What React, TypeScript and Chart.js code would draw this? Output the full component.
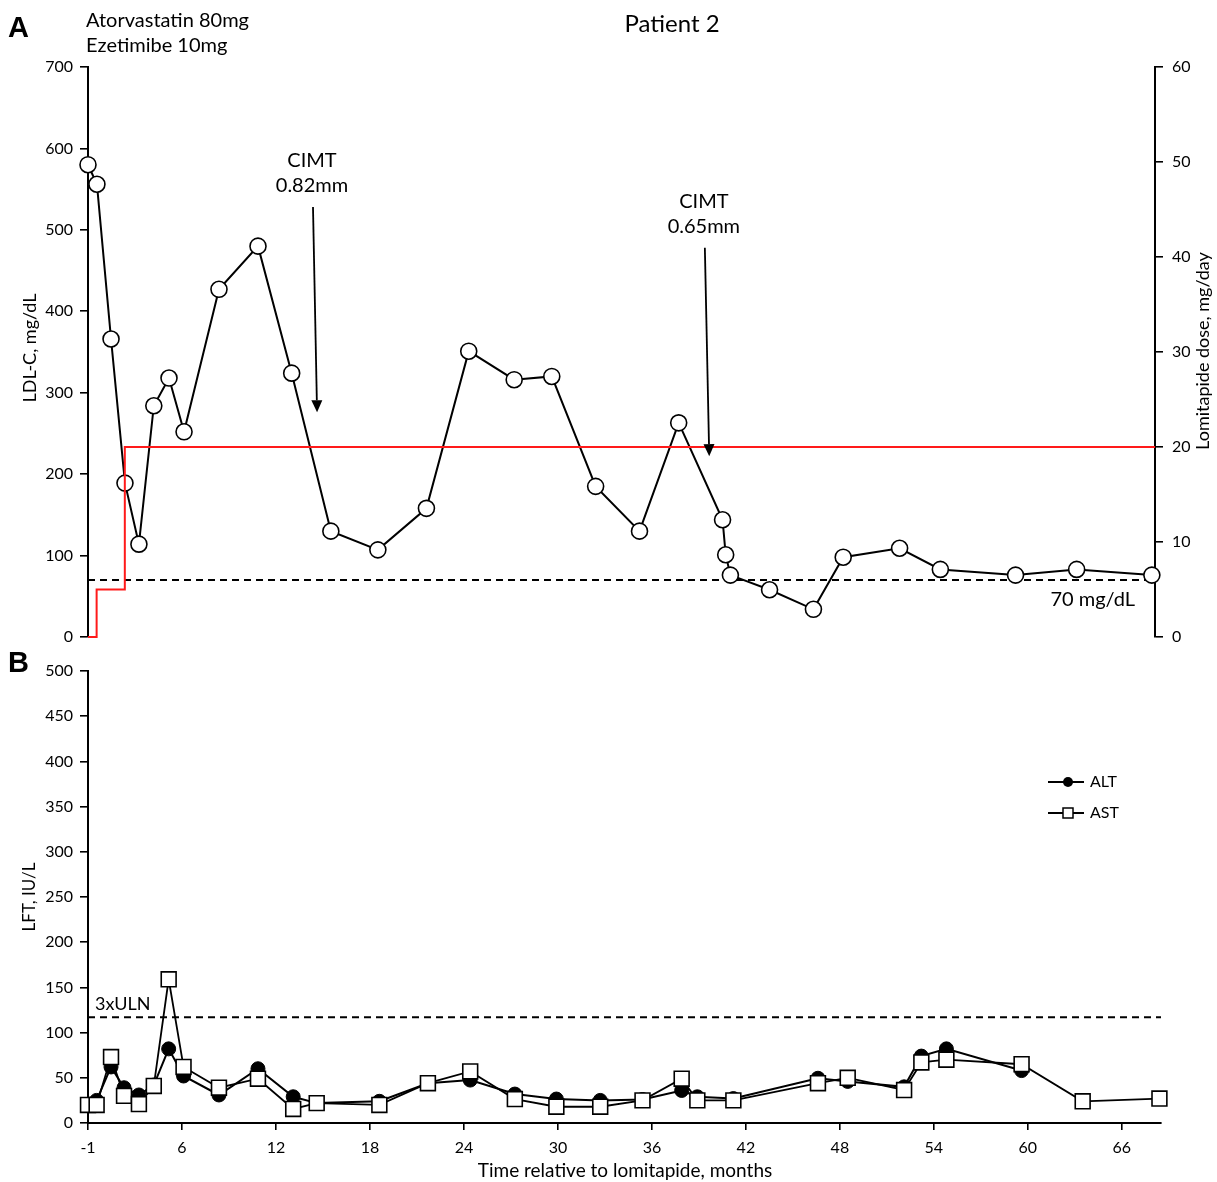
import React, { useEffect, useRef } from "react";
import { Chart, registerables } from "chart.js";

Chart.register(...registerables);

const FONT = "Lato, 'Open Sans', sans-serif";
const BOLD_FONT = "'Liberation Sans', Arial, sans-serif";

// ---------- Panel A data ----------
const LDL_MONTHS = [0, 0.57, 1.47, 2.36, 3.25, 4.2, 5.17, 6.13, 8.36, 10.85, 13.0, 15.5, 18.5, 21.6, 24.3, 27.2, 29.6, 32.4, 35.2, 37.7, 40.5, 40.7, 41.0, 43.5, 46.3, 48.2, 51.8, 54.4, 59.2, 63.1, 67.9];
const LDL_VALUES = [580, 556, 366, 189, 114, 284, 318, 252, 427, 480, 324, 130, 107, 158, 351, 316, 320, 185, 130, 263, 144, 101, 76, 58, 34, 98, 109, 83, 76, 83, 76];
const DOSE_MONTHS = [0, 0.55, 2.35, 68.1];
const DOSE_VALUES = [0, 5, 20, 20];
const LDL_TARGET = 70;
const LDL_TICKS = [0, 100, 200, 300, 400, 500, 600, 700];
const DOSE_TICKS = [0, 10, 20, 30, 40, 50, 60];
const CIMT_NOTES = [
  { label: "0.82mm", month: 14.36, tipMonth: 14.62, top: 528, tip: 276 },
  { label: "0.65mm", month: 39.37, tipMonth: 39.65, top: 478, tip: 222 },
];

// ---------- Panel B data ----------
const AST_MONTHS = [0, 0.55, 1.47, 2.3, 3.25, 4.2, 5.15, 6.1, 8.36, 10.85, 13.1, 14.6, 18.6, 21.7, 24.4, 27.25, 29.9, 32.7, 35.4, 37.9, 38.9, 41.2, 46.6, 48.5, 52.1, 53.2, 54.8, 59.6, 63.5, 68.4];
const AST_VALUES = [20, 20, 73, 30, 21, 41, 159, 62, 39, 49, 15.5, 22, 20, 44, 57, 26.5, 18, 18, 25, 49, 25, 25, 44, 50, 36.5, 67, 70, 65, 24, 27];
const ALT_MONTHS = [0, 0.55, 1.47, 2.3, 3.25, 4.2, 5.15, 6.1, 8.36, 10.85, 13.1, 14.6, 18.6, 21.7, 24.4, 27.25, 29.9, 32.7, 35.4, 37.9, 38.9, 41.2, 46.6, 48.5, 52.1, 53.2, 54.8, 59.6];
const ALT_VALUES = [20, 25, 62, 39, 31, 42, 82, 52, 31, 60, 29, 22, 24, 44, 47.5, 32, 26.5, 25, 26, 36, 29, 27, 49.5, 46, 40, 74, 82, 58];
const ULN3 = 117;
const LFT_TICKS = [0, 50, 100, 150, 200, 250, 300, 350, 400, 450, 500];
const MONTH_TICKS = [0, 6, 12, 18, 24, 30, 36, 42, 48, 54, 60, 66];
const MONTH_TICK_LABELS = ["-1", "6", "12", "18", "24", "30", "36", "42", "48", "54", "60", "66"];

const W = 1217;
const A_TOP = 0;
const A_H = 660;
const B_TOP = 640;
const B_H = 542;
const INK = "#000";

const pts = (xs: number[], ys: number[]) => xs.map((x, i) => ({ x, y: ys[i] }));

function axisCommon(ticks: number[], width: number) {
  return {
    type: "linear" as const,
    min: ticks[0],
    max: ticks[ticks.length - 1],
    afterBuildTicks: (s: any) => {
      s.ticks = ticks.map((v) => ({ value: v }));
    },
    afterFit: (s: any) => {
      s.width = width;
    },
    grid: { drawOnChartArea: false, color: INK, tickLength: 8, lineWidth: 1.6 },
    border: { color: INK, width: 2 },
    ticks: { color: INK, font: { family: FONT, size: 16 }, padding: 7 },
  };
}

function text(ctx: CanvasRenderingContext2D, s: string, x: number, y: number, font: string, align: CanvasTextAlign = "left", baseline: CanvasTextBaseline = "alphabetic", rot = 0) {
  ctx.save();
  ctx.font = font;
  ctx.fillStyle = INK;
  ctx.textAlign = align;
  ctx.textBaseline = baseline;
  ctx.translate(x, y);
  if (rot) ctx.rotate(rot);
  ctx.fillText(s, 0, 0);
  ctx.restore();
}

function arrow(ctx: CanvasRenderingContext2D, x1: number, y1: number, x2: number, y2: number) {
  const ang = Math.atan2(y2 - y1, x2 - x1);
  const hl = 12;
  const hw = 5.5;
  const bx = x2 - hl * Math.cos(ang);
  const by = y2 - hl * Math.sin(ang);
  ctx.save();
  ctx.strokeStyle = INK;
  ctx.fillStyle = INK;
  ctx.lineWidth = 1.8;
  ctx.beginPath();
  ctx.moveTo(x1, y1);
  ctx.lineTo(bx, by);
  ctx.stroke();
  ctx.beginPath();
  ctx.moveTo(x2, y2);
  ctx.lineTo(bx + hw * Math.sin(ang), by - hw * Math.cos(ang));
  ctx.lineTo(bx - hw * Math.sin(ang), by + hw * Math.cos(ang));
  ctx.closePath();
  ctx.fill();
  ctx.restore();
}

const annotA = {
  id: "annotA",
  afterDraw(chart: any) {
    const ctx = chart.ctx as CanvasRenderingContext2D;
    const xs = chart.scales.x;
    const ys = chart.scales.y;
    const o = A_TOP;
    text(ctx, "A", 8, 37 - o, `bold 29px ${BOLD_FONT}`);
    text(ctx, "Atorvastatin 80mg", 86, 27 - o, `20px ${FONT}`);
    text(ctx, "Ezetimibe 10mg", 86, 52 - o, `20px ${FONT}`);
    text(ctx, "Patient 2", 672, 32 - o, `24px ${FONT}`, "center");
    text(ctx, "LDL-C, mg/dL", 30, 348 - o, `18px ${FONT}`, "center", "middle", -Math.PI / 2);
    text(ctx, "Lomitapide dose, mg/day", 1203, 351 - o, `18px ${FONT}`, "center", "middle", -Math.PI / 2);
    text(ctx, "70 mg/dL", xs.right - 20, ys.getPixelForValue(LDL_TARGET) + 20, `20px ${FONT}`, "right", "middle");
    for (const n of CIMT_NOTES) {
      const x1 = xs.getPixelForValue(n.month);
      const y1 = ys.getPixelForValue(n.top);
      const x2 = xs.getPixelForValue(n.tipMonth);
      const y2 = ys.getPixelForValue(n.tip);
      text(ctx, "CIMT", x1 - 1, y1 - 40, `20px ${FONT}`, "center");
      text(ctx, n.label, x1 - 1, y1 - 15, `20px ${FONT}`, "center");
      arrow(ctx, x1, y1, x2, y2);
    }
  },
};

const annotB = {
  id: "annotB",
  afterDraw(chart: any) {
    const ctx = chart.ctx as CanvasRenderingContext2D;
    const xs = chart.scales.x;
    const ys = chart.scales.y;
    const o = B_TOP;
    text(ctx, "B", 8, 672 - o, `bold 29px ${BOLD_FONT}`);
    text(ctx, "LFT, IU/L", 30, 897 - o, `17px ${FONT}`, "center", "middle", -Math.PI / 2);
    text(ctx, "Time relative to lomitapide, months", 625, 1171 - o, `19px ${FONT}`, "center", "middle");
    text(ctx, "3xULN", 95, ys.getPixelForValue(ULN3) - 7, `18px ${FONT}`, "left", "alphabetic");
    // legend
    const lx = 1048;
    const rows = [
      { label: "ALT", y: 782 - o, kind: "circle" },
      { label: "AST", y: 813 - o, kind: "rect" },
    ];
    for (const r of rows) {
      ctx.save();
      ctx.strokeStyle = INK;
      ctx.lineWidth = 1.8;
      ctx.beginPath();
      ctx.moveTo(lx, r.y);
      ctx.lineTo(lx + 36, r.y);
      ctx.stroke();
      if (r.kind === "circle") {
        ctx.fillStyle = INK;
        ctx.beginPath();
        ctx.arc(lx + 20, r.y, 5, 0, Math.PI * 2);
        ctx.fill();
      } else {
        ctx.fillStyle = "#fff";
        ctx.lineWidth = 1.5;
        ctx.fillRect(lx + 15, r.y - 5, 10, 10);
        ctx.strokeRect(lx + 15, r.y - 5, 10, 10);
      }
      ctx.restore();
      text(ctx, r.label, lx + 42, r.y, `16px ${FONT}`, "left", "middle");
    }
  },
};

export default function App() {
  const refA = useRef<HTMLCanvasElement>(null);
  const refB = useRef<HTMLCanvasElement>(null);

  useEffect(() => {
    const chartA = new Chart(refA.current!, {
      type: "line",
      data: {
        datasets: [
          {
            label: "Lomitapide dose",
            data: pts(DOSE_MONTHS, DOSE_VALUES),
            yAxisID: "y1",
            borderColor: "#ff1a1a",
            borderWidth: 2,
            pointRadius: 0,
            stepped: "before",
            order: 0,
            clip: false,
          } as any,
          {
            label: "LDL-C",
            data: pts(LDL_MONTHS, LDL_VALUES),
            yAxisID: "y",
            borderColor: INK,
            borderWidth: 2,
            pointRadius: 8,
            pointBackgroundColor: "#fff",
            pointBorderColor: INK,
            pointBorderWidth: 1.6,
            order: 1,
            clip: false,
          },
          {
            label: "70 mg/dL",
            data: [
              { x: 0, y: LDL_TARGET },
              { x: 68.1, y: LDL_TARGET },
            ],
            yAxisID: "y",
            borderColor: INK,
            borderWidth: 2,
            borderDash: [7, 5],
            pointRadius: 0,
            order: 2,
            clip: false,
          },
        ],
      },
      options: {
        responsive: false,
        animation: false,
        layout: { padding: { top: 67, bottom: A_H - 637, left: 0, right: 0 } },
        plugins: { legend: { display: false }, tooltip: { enabled: false } },
        scales: {
          x: { type: "linear", display: false, min: 0, max: 68.1 },
          y: { ...axisCommon(LDL_TICKS, 88), position: "left" },
          y1: { ...axisCommon(DOSE_TICKS, W - 1155), position: "right", ticks: { color: INK, font: { family: FONT, size: 16 }, padding: 9 } },
        } as any,
      },
      plugins: [annotA],
    });

    const chartB = new Chart(refB.current!, {
      type: "line",
      data: {
        datasets: [
          {
            label: "AST",
            data: pts(AST_MONTHS, AST_VALUES),
            borderColor: INK,
            borderWidth: 1.8,
            pointStyle: "rect",
            pointRadius: 10.5,
            pointBackgroundColor: "#fff",
            pointBorderColor: INK,
            pointBorderWidth: 1.6,
            order: 0,
            clip: false,
          },
          {
            label: "ALT",
            data: pts(ALT_MONTHS, ALT_VALUES),
            borderColor: INK,
            borderWidth: 2,
            pointStyle: "circle",
            pointRadius: 7,
            pointBackgroundColor: INK,
            pointBorderColor: INK,
            pointBorderWidth: 1,
            order: 1,
            clip: false,
          },
          {
            label: "3xULN",
            data: [
              { x: 0, y: ULN3 },
              { x: 68.5, y: ULN3 },
            ],
            borderColor: INK,
            borderWidth: 2,
            borderDash: [7, 5],
            pointRadius: 0,
            order: 2,
            clip: false,
          },
        ],
      },
      options: {
        responsive: false,
        animation: false,
        layout: { padding: { top: 671 - B_TOP, bottom: 0, left: 0, right: W - 1161 } },
        plugins: { legend: { display: false }, tooltip: { enabled: false } },
        scales: {
          x: {
            type: "linear",
            min: 0,
            max: 68.5,
            afterBuildTicks: (s: any) => {
              s.ticks = MONTH_TICKS.map((v) => ({ value: v }));
            },
            afterFit: (s: any) => {
              s.height = 1182 - 1123;
            },
            grid: { drawOnChartArea: false, color: INK, tickLength: 7, lineWidth: 1.6 },
            border: { color: INK, width: 2 },
            ticks: {
              color: INK,
              font: { family: FONT, size: 16 },
              padding: 8,
              maxRotation: 0,
              callback: (v: any) => {
                const i = MONTH_TICKS.indexOf(Number(v));
                return i >= 0 ? MONTH_TICK_LABELS[i] : "";
              },
            },
          },
          y: { ...axisCommon(LFT_TICKS, 88), position: "left" },
        } as any,
      },
      plugins: [annotB],
    });

    return () => {
      chartA.destroy();
      chartB.destroy();
    };
  }, []);

  return (
    <div style={{ position: "absolute", left: 0, top: 0, width: W, height: 1182, background: "#fff" }}>
      <canvas ref={refA} width={W} height={A_H} style={{ position: "absolute", left: 0, top: A_TOP, width: W, height: A_H }} />
      <canvas ref={refB} width={W} height={B_H} style={{ position: "absolute", left: 0, top: B_TOP, width: W, height: B_H }} />
    </div>
  );
}
